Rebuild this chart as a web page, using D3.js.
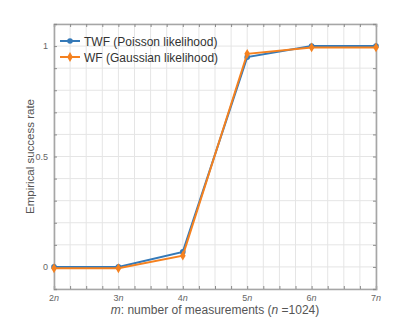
<!DOCTYPE html>
<html><head><meta charset="utf-8">
<script src="https://cdn.jsdelivr.net/npm/d3@7"></script>
<style>body{margin:0;background:#fff;} svg{display:block;font-family:"Liberation Sans",Arial,sans-serif;}</style>
</head><body>
<svg id="c" width="415" height="326"></svg>
<script>
const xValues = [2, 3, 4, 5, 6, 7];
const twf = [0, 0, 0.068, 0.95, 1.0, 1.0];
const wf = [-0.006, -0.006, 0.051, 0.965, 0.994, 0.994];
const seriesNames = ["TWF (Poisson likelihood)", "WF  (Gaussian likelihood)"];
const xTickLabels = ["2", "3", "4", "5", "6", "7"];
const yTickLabels = [0, 0.5, 1];

(function(){
const svg = d3.select("#c");
const L = 54, R = 376, T = 24, B = 289;
const x = d3.scaleLinear().domain([2, 7]).range([L, R]);
const y = d3.scaleLinear().domain([-0.1, 1.1]).range([B, T]);
const grid = "#e5e5e5", axc = "#a6a6a6";

const xMinor = d3.range(2, 7.001, 0.25);
const yMinor = d3.range(-0.1, 1.1001, 0.1);
svg.append("g").selectAll("line").data(xMinor).join("line")
  .attr("x1", d => x(d)).attr("x2", d => x(d)).attr("y1", T).attr("y2", B)
  .attr("stroke", grid).attr("stroke-width", 1);
svg.append("g").selectAll("line").data(yMinor).join("line")
  .attr("x1", L).attr("x2", R).attr("y1", d => y(d)).attr("y2", d => y(d))
  .attr("stroke", grid).attr("stroke-width", 1);

const tl = 3;
const axBottom = d3.axisBottom(x).tickValues(xMinor).tickSize(-tl).tickFormat("");
const axTop = d3.axisTop(x).tickValues(xMinor).tickSize(-tl).tickFormat("");
const axLeft = d3.axisLeft(y).tickValues(yMinor).tickSize(-tl).tickFormat("");
const axRight = d3.axisRight(y).tickValues(yMinor).tickSize(-tl).tickFormat("");
function styleAxis(g){ g.selectAll("path").attr("stroke", axc).attr("stroke-width", 1.6);
  g.selectAll("line").attr("stroke", "#8c8c8c").attr("stroke-width", 1); }
svg.append("g").attr("transform", `translate(0,${B})`).call(axBottom).call(styleAxis);
svg.append("g").attr("transform", `translate(0,${T})`).call(axTop).call(styleAxis);
svg.append("g").attr("transform", `translate(${L},0)`).call(axLeft).call(styleAxis);
svg.append("g").attr("transform", `translate(${R},0)`).call(axRight).call(styleAxis);

const xl = svg.append("g");
xValues.forEach((v, i) => {
  const t = xl.append("text").attr("x", x(v)).attr("y", B + 12).attr("text-anchor", "middle")
    .attr("font-size", 9).attr("fill", "#666");
  t.append("tspan").text(xTickLabels[i]);
  t.append("tspan").attr("font-style", "italic").text("n");
});
svg.append("g").selectAll("text").data(yTickLabels).join("text")
  .attr("x", L - 6).attr("y", d => y(d) + 3).attr("text-anchor", "end")
  .attr("font-size", 9).attr("fill", "#666").text(d => d);

const xt = svg.append("text").attr("x", (L + R) / 2).attr("y", 314).attr("text-anchor", "middle")
  .attr("font-size", 12).attr("fill", "#555");
xt.append("tspan").attr("font-style", "italic").text("m");
xt.append("tspan").text(": number of measurements (");
xt.append("tspan").attr("font-style", "italic").text("n");
xt.append("tspan").text(" =1024)");
svg.append("text").attr("transform", `translate(34,${(T + B) / 2}) rotate(-90)`)
  .attr("text-anchor", "middle").attr("font-size", 11.5).attr("fill", "#555")
  .text("Empirical success rate");

const colors = ["#3479b8", "#f5811f"];
const data = [twf, wf];
const line = d3.line().x((d, i) => x(xValues[i])).y(d => y(d));
data.forEach((s, k) => {
  svg.append("path").datum(s).attr("d", line).attr("fill", "none")
    .attr("stroke", colors[k]).attr("stroke-width", 2);
  if (k === 0) {
    svg.append("g").selectAll("circle").data(s).join("circle")
      .attr("cx", (d, i) => x(xValues[i])).attr("cy", d => y(d)).attr("r", 2.8).attr("fill", colors[k]);
  } else {
    svg.append("g").selectAll("path").data(s).join("path")
      .attr("d", d3.symbol(d3.symbolDiamond, 28)())
      .attr("transform", (d, i) => `translate(${x(xValues[i])},${y(d)})`).attr("fill", colors[k]);
  }
});

seriesNames.forEach((nm, k) => {
  const yy = 41 + k * 16;
  svg.append("line").attr("x1", 60).attr("x2", 80).attr("y1", yy).attr("y2", yy)
    .attr("stroke", colors[k]).attr("stroke-width", 2);
  if (k === 0) svg.append("circle").attr("cx", 70).attr("cy", yy).attr("r", 2.8).attr("fill", colors[k]);
  else svg.append("path").attr("d", d3.symbol(d3.symbolDiamond, 28)()).attr("transform", `translate(70,${yy})`).attr("fill", colors[k]);
  svg.append("text").attr("x", 84).attr("y", yy + 4.5).attr("font-size", 12).attr("fill", "#333").text(nm);
});
})();
</script>
</body></html>
